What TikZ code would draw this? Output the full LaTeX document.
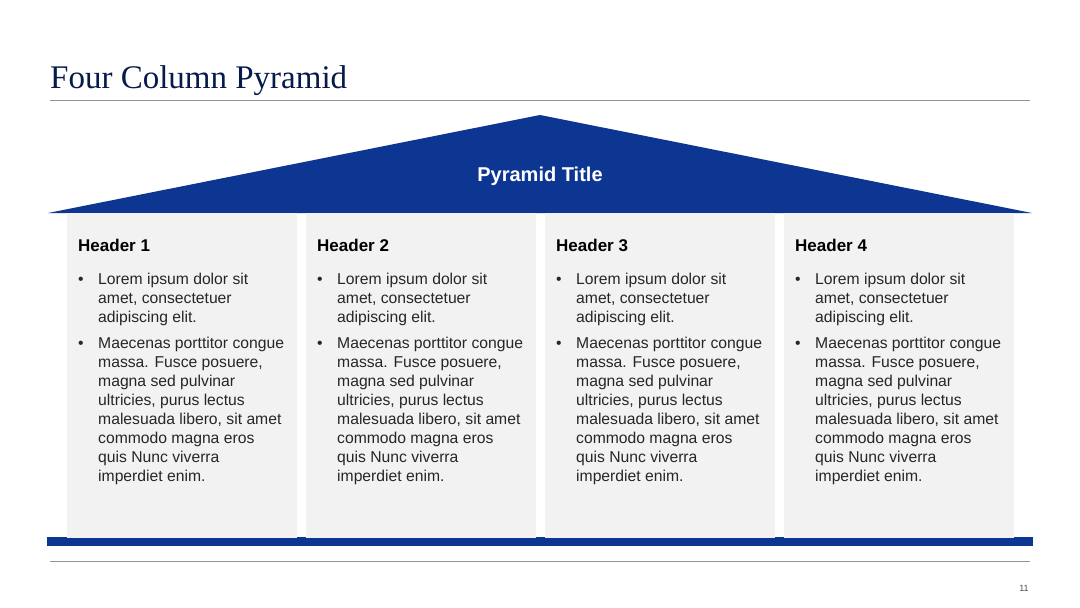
\documentclass[tikz,border=0pt]{standalone}
\usepackage{fontspec}
\setmainfont{Liberation Sans}
\newfontfamily\titlefont{Liberation Serif}
\definecolor{navy}{HTML}{0D3592}
\definecolor{panel}{HTML}{F2F2F2}
\definecolor{rule}{HTML}{8C96A0}
\begin{document}
\begin{tikzpicture}[x=1pt,y=-1pt,
  bodytext/.style={anchor=north west,align=left,inner sep=0pt,font=\fontsize{15.7}{19}\selectfont,text=black!85},
  hdr/.style={anchor=west,inner sep=0pt,font=\fontsize{17}{19}\selectfont\bfseries}]
\useasboundingbox (0,0) rectangle (1080,608);
\node[anchor=base west,inner sep=0pt,font=\titlefont\fontsize{33}{35}\selectfont,text=navy!50!black] (title) at (50,88) {Four Column Pyramid};
\draw[rule,line width=1pt] (50,100) -- (1030,100);
\fill[navy] (540,115) -- (1032,213) -- (48,213) -- cycle;
\node[font=\fontsize{20}{22}\selectfont\bfseries,text=white] (pt) at (540,176) {Pyramid Title};
\fill[navy] (47,537) rectangle (1033,546);
\draw[rule,line width=1pt] (50,561) -- (1030,561);
\node[font=\fontsize{9}{10}\selectfont,text=black!70] (pg) at (1024,588) {11};
\foreach \i/\x in {1/67,2/306,3/545,4/784}{
  \fill[panel] (\x,213) rectangle (\x+230,538);
  \node[hdr] (h\i) at (\x+11,245) {Header \i};
  \node[bodytext] (u\i a) at (\x+11,277) {\textbullet};
  \node[bodytext] (v\i a) at (\x+31,273) {Lorem ipsum dolor sit\\amet, consectetuer\\adipiscing elit.};
  \node[bodytext] (u\i b) at (\x+11,341) {\textbullet};
  \node[bodytext] (v\i b) at (\x+31,337) {Maecenas porttitor congue\\massa. Fusce posuere,\\magna sed pulvinar\\ultricies, purus lectus\\malesuada libero, sit amet\\commodo magna eros\\quis Nunc viverra\\imperdiet enim.};
}
\end{tikzpicture}
\end{document}
